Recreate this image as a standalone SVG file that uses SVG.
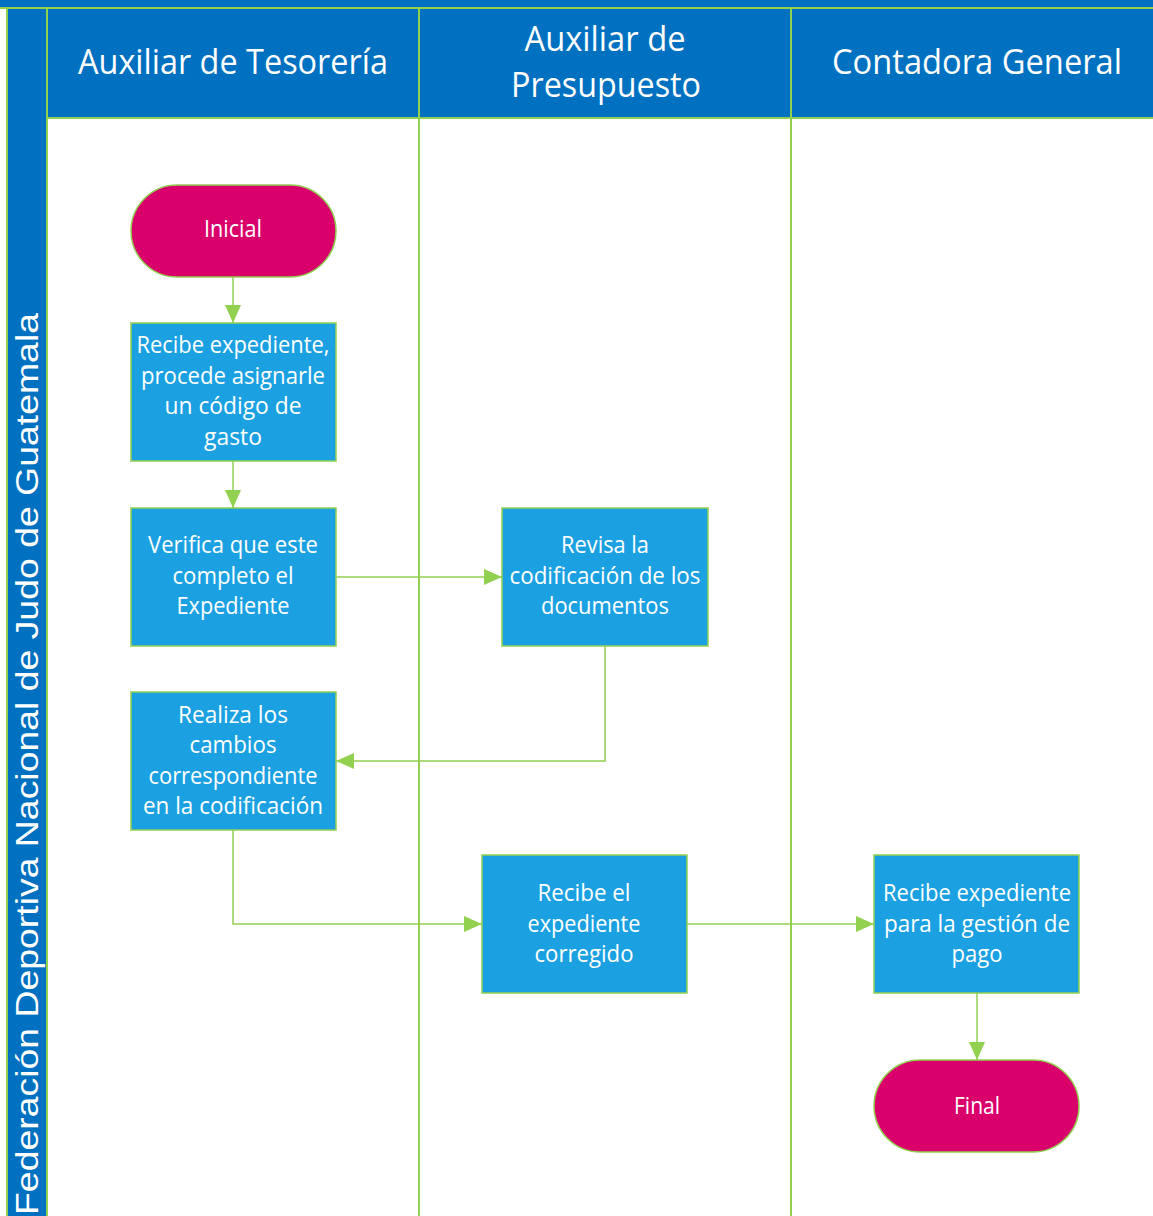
<svg xmlns="http://www.w3.org/2000/svg" width="1153" height="1216" viewBox="0 0 1153 1216">
<style>
.band{fill:#0070C0}
.ln{stroke:#92D050;stroke-width:2;fill:none}
.box{fill:#1BA1E2;stroke:#92D050;stroke-width:1.5}
.term{fill:#D9006C;stroke:#92D050;stroke-width:1.5}
.t{font-family:"Open Sans","Noto Sans",sans-serif;font-size:23px;fill:#fff;text-anchor:middle}
.h{font-family:"Open Sans","Noto Sans",sans-serif;font-size:35px;fill:#fff;text-anchor:middle}
.c{stroke:#92D050;stroke-width:1.5;fill:none}
</style>
<defs>
<marker id="ah" viewBox="0 0 18 16" refX="18" refY="8" markerWidth="18" markerHeight="16" markerUnits="userSpaceOnUse" orient="auto">
<path d="M0,0 L18,8 L0,16 Z" fill="#92D050"/>
</marker>
</defs>
<rect width="1153" height="1216" fill="#fff"/>
<g id="pool">
<rect class="band" x="0" y="0" width="1153" height="8"/>
<rect class="band" x="7" y="8" width="40" height="1208"/>
<rect class="band" x="47" y="8" width="1106" height="110"/>
<line class="ln" x1="0" y1="8" x2="1153" y2="8"/>
<line class="ln" x1="7" y1="8" x2="7" y2="1216"/>
<line class="ln" x1="47" y1="8" x2="47" y2="1216"/>
<line class="ln" x1="47" y1="118" x2="1153" y2="118"/>
<line class="ln" x1="419" y1="8" x2="419" y2="1216"/>
<line class="ln" x1="791" y1="8" x2="791" y2="1216"/>
<text transform="translate(38,1215) rotate(-90)" font-family="Liberation Sans, Arial, sans-serif" font-size="31" fill="#fff" textLength="902" lengthAdjust="spacingAndGlyphs">Federación Deportiva Nacional de Judo de Guatemala</text>
<text class="h" x="233" y="74" textLength="310" lengthAdjust="spacingAndGlyphs">Auxiliar de Tesorería</text>
<text class="h" x="605" y="51" textLength="161" lengthAdjust="spacingAndGlyphs">Auxiliar de</text>
<text class="h" x="606" y="97" textLength="190" lengthAdjust="spacingAndGlyphs">Presupuesto</text>
<text class="h" x="977" y="74" textLength="290" lengthAdjust="spacingAndGlyphs">Contadora General</text>
</g>
<g id="connectors">
<path class="c" d="M233,277 V323" marker-end="url(#ah)"/>
<path class="c" d="M233,461 V508" marker-end="url(#ah)"/>
<path class="c" d="M336,577 H502" marker-end="url(#ah)"/>
<path class="c" d="M605,646 V761 H336" marker-end="url(#ah)"/>
<path class="c" d="M233,830 V924 H482" marker-end="url(#ah)"/>
<path class="c" d="M687,924 H874" marker-end="url(#ah)"/>
<path class="c" d="M977,993 V1060" marker-end="url(#ah)"/>
</g>
<g id="inicial">
<rect class="term" x="131" y="185" width="205" height="92" rx="46"/>
<text class="t" x="233" y="237" textLength="58" lengthAdjust="spacingAndGlyphs">Inicial</text>
</g>
<g id="recibe-expediente">
<rect class="box" x="131" y="323" width="205" height="138"/>
<text class="t" x="233" y="353" textLength="193" lengthAdjust="spacingAndGlyphs">Recibe expediente,</text>
<text class="t" x="233" y="384" textLength="184" lengthAdjust="spacingAndGlyphs">procede asignarle</text>
<text class="t" x="233" y="414" textLength="137" lengthAdjust="spacingAndGlyphs">un código de</text>
<text class="t" x="233" y="445" textLength="58" lengthAdjust="spacingAndGlyphs">gasto</text>
</g>
<g id="verifica">
<rect class="box" x="131" y="508" width="205" height="138"/>
<text class="t" x="233" y="553" textLength="170" lengthAdjust="spacingAndGlyphs">Verifica que este</text>
<text class="t" x="233" y="584" textLength="121" lengthAdjust="spacingAndGlyphs">completo el</text>
<text class="t" x="233" y="614" textLength="113" lengthAdjust="spacingAndGlyphs">Expediente</text>
</g>
<g id="revisa">
<rect class="box" x="502" y="508" width="206" height="138"/>
<text class="t" x="605" y="553" textLength="88" lengthAdjust="spacingAndGlyphs">Revisa la</text>
<text class="t" x="605" y="584" textLength="191" lengthAdjust="spacingAndGlyphs">codificación de los</text>
<text class="t" x="605" y="614" textLength="128" lengthAdjust="spacingAndGlyphs">documentos</text>
</g>
<g id="realiza">
<rect class="box" x="131" y="692" width="205" height="138"/>
<text class="t" x="233" y="723" textLength="110" lengthAdjust="spacingAndGlyphs">Realiza los</text>
<text class="t" x="233" y="753" textLength="87" lengthAdjust="spacingAndGlyphs">cambios</text>
<text class="t" x="233" y="784" textLength="169" lengthAdjust="spacingAndGlyphs">correspondiente</text>
<text class="t" x="233" y="814" textLength="180" lengthAdjust="spacingAndGlyphs">en la codificación</text>
</g>
<g id="recibe-corregido">
<rect class="box" x="482" y="855" width="205" height="138"/>
<text class="t" x="584" y="901" textLength="93" lengthAdjust="spacingAndGlyphs">Recibe el</text>
<text class="t" x="584" y="932" textLength="113" lengthAdjust="spacingAndGlyphs">expediente</text>
<text class="t" x="584" y="962" textLength="99" lengthAdjust="spacingAndGlyphs">corregido</text>
</g>
<g id="recibe-pago">
<rect class="box" x="874" y="855" width="205" height="138"/>
<text class="t" x="977" y="901" textLength="188" lengthAdjust="spacingAndGlyphs">Recibe expediente</text>
<text class="t" x="977" y="932" textLength="186" lengthAdjust="spacingAndGlyphs">para la gestión de</text>
<text class="t" x="977" y="962" textLength="51" lengthAdjust="spacingAndGlyphs">pago</text>
</g>
<g id="final">
<rect class="term" x="874" y="1060" width="205" height="92" rx="46"/>
<text class="t" x="977" y="1114" textLength="46" lengthAdjust="spacingAndGlyphs">Final</text>
</g>
</svg>
